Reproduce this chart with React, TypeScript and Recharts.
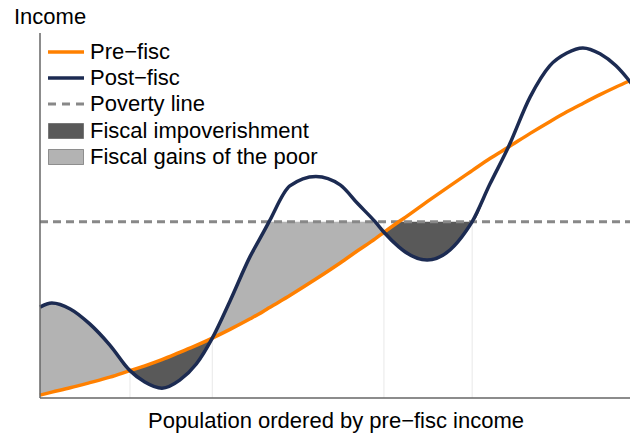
import { ComposedChart, Line, Area, XAxis, YAxis, ReferenceLine, Legend } from 'recharts'

// population share (0-100) and income on a 0-100 scale
const xs = [0, 2.0, 5.1, 8.4, 11.8, 15.2, 17.7, 20.6, 23.6, 26.4, 29.1, 32.1, 35.5, 37.7, 38.7, 42.2, 46.6, 50.7,
  53.7, 56.6, 58.1, 60.6, 61.7, 65.4, 69.3, 72.0, 73.0, 76.0, 79.1, 82.8, 86.1, 89.0, 91.7, 94.6, 97.3, 100]
const preFisc = [0.8, 1.6, 2.8, 4.2, 5.7, 7.5, 8.8, 10.5, 12.5, 14.4, 16.4, 18.8, 21.7, 23.7, 24.7, 28.1, 32.6, 37.0,
  40.4, 43.6, 45.4, 48.3, 49.5, 53.8, 58.2, 61.2, 62.3, 65.6, 68.7, 72.5, 75.7, 78.4, 80.7, 83.1, 85.2, 87.2]
const postFisc = [24.9, 26.0, 24.4, 20.3, 14.5, 7.5, 4.4, 2.7, 4.9, 9.3, 16.4, 26.6, 38.8, 45.3, 48.3, 58.1, 60.7, 58.4,
  53.2, 48.3, 45.4, 41.4, 40.0, 37.8, 40.6, 45.8, 48.3, 58.6, 68.7, 82.5, 91.0, 94.5, 95.9, 94.3, 91.0, 86.0]
const povertyLine = 48.3

// faint guides where the curves cross
const guideX = [15.2, 29.1, 58.1, 73.0]
const guideTop = [7.5, 16.4, 48.3, 48.3]

const ORANGE = '#ff8000'
const NAVY = '#1c2b52'
const DARK = '#595959'
const LIGHT = '#b3b3b3'
const FONT = '"Liberation Sans", Arial, Helvetica, sans-serif'

const data = xs.map((x, i) => {
  const pre = preFisc[i]
  const post = postFisc[i]
  return {
    x, pre, post,
    gains: [pre, Math.max(pre, Math.min(post, povertyLine))],
    impov: [post, Math.max(post, Math.min(pre, povertyLine))],
  }
})

const legendItems = [
  { label: 'Pre−fisc', kind: 'line', color: ORANGE },
  { label: 'Post−fisc', kind: 'line', color: NAVY },
  { label: 'Poverty line', kind: 'dash', color: '#888888' },
  { label: 'Fiscal impoverishment', kind: 'box', color: DARK },
  { label: 'Fiscal gains of the poor', kind: 'box', color: LIGHT },
]

function ChartLegend() {
  return (
    <div style={{ fontFamily: FONT, fontSize: 22, color: '#000' }}>
      {legendItems.map(it => (
        <div key={it.label} style={{ display: 'flex', alignItems: 'center', height: 26.2, lineHeight: '26px' }}>
          <svg width={36} height={18} style={{ marginRight: 6 }}>
            {it.kind === 'line' && <line x1={0} x2={36} y1={9} y2={9} stroke={it.color} strokeWidth={3.5} />}
            {it.kind === 'dash' && <line x1={0} x2={36} y1={9} y2={9} stroke={it.color} strokeWidth={3} strokeDasharray="8 6" />}
            {it.kind === 'box' && <rect x={0.5} y={1.5} width={35} height={15} fill={it.color} stroke="#444" strokeOpacity={0.5} />}
          </svg>
          <span style={{ whiteSpace: 'nowrap' }}>{it.label}</span>
        </div>
      ))}
    </div>
  )
}

export default function App() {
  return (
    <div style={{ position: 'relative', width: 630, height: 428 }}>
      <div style={{ position: 'absolute', left: 6, top: -2, fontFamily: FONT, fontSize: 22, lineHeight: '22px' }}>
        Income
      </div>
      <ComposedChart width={630} height={428} data={data} margin={{ top: 25, right: 6, bottom: 0, left: 0 }}>
        <XAxis
          type="number" dataKey="x" domain={[0, 100]} tick={false} tickLine={false} height={38}
          axisLine={{ stroke: '#666', strokeWidth: 1.5 }}
          label={{ value: 'Population ordered by pre−fisc income', position: 'insideBottom', offset: 8, fill: '#000', fontSize: 22, fontFamily: FONT }}
        />
        <YAxis type="number" domain={[0, 100]} tick={false} tickLine={false} width={32} axisLine={{ stroke: '#666', strokeWidth: 1.5 }} />
        {guideX.map((gx, i) => (
          <ReferenceLine key={gx} segment={[{ x: gx, y: 0 }, { x: gx, y: guideTop[i] }]} stroke="#e8e8e8" strokeWidth={1} />
        ))}
        <Area type="monotone" dataKey="gains" stroke="none" fill={LIGHT} fillOpacity={1} isAnimationActive={false} activeDot={false} />
        <Area type="monotone" dataKey="impov" stroke="none" fill={DARK} fillOpacity={1} isAnimationActive={false} activeDot={false} />
        <ReferenceLine y={povertyLine} stroke="#888888" strokeWidth={3} strokeDasharray="8 5" />
        <Line type="monotone" dataKey="pre" stroke={ORANGE} strokeWidth={3.5} dot={false} activeDot={false} isAnimationActive={false} />
        <Line type="monotone" dataKey="post" stroke={NAVY} strokeWidth={3.5} dot={false} activeDot={false} isAnimationActive={false} />
        <Legend
          layout="vertical" align="center" verticalAlign="middle"
          wrapperStyle={{ top: 31, left: 40, width: 'auto', height: 'auto' }}
          content={() => <ChartLegend />}
        />
      </ComposedChart>
    </div>
  )
}
